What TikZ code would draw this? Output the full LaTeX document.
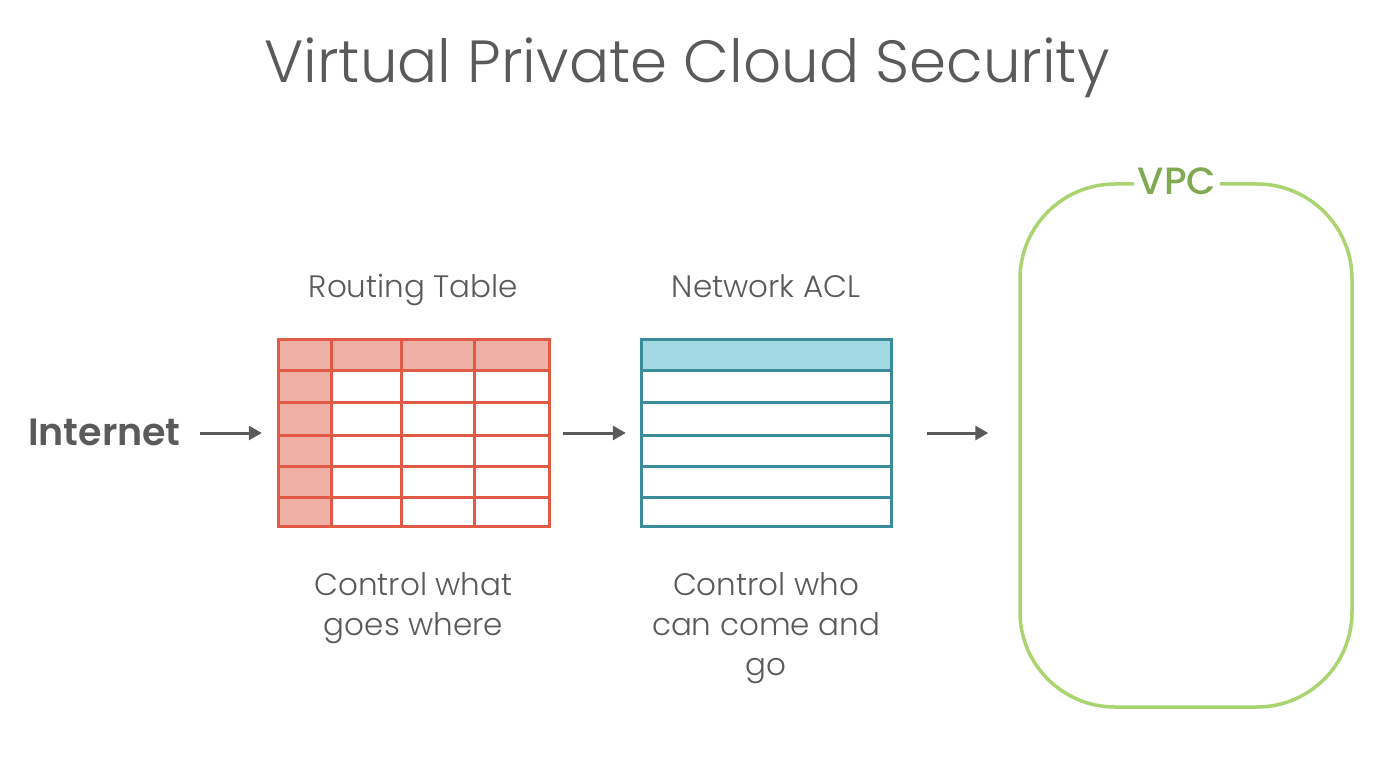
\documentclass[tikz,border=0pt]{standalone}
\usepackage{fontspec}
\setmainfont{Poppins}[UprightFont=* Light, BoldFont=* Medium]
\newfontfamily\semib{Poppins SemiBold}
\usetikzlibrary{arrows.meta}
\definecolor{txt}{HTML}{5A5A5A}
\definecolor{rtline}{HTML}{E05A45}
\definecolor{rtfill}{HTML}{EFB0A6}
\definecolor{acline}{HTML}{3A8C9A}
\definecolor{acfill}{HTML}{A2D9E3}
\definecolor{vpcline}{HTML}{A9D46F}
\definecolor{vpctxt}{HTML}{7FAA52}
\tikzset{
  lbl/.style={text=txt, font=\fontsize{31}{40}\selectfont, align=center, anchor=base, inner sep=0pt},
  flow/.style={draw=txt, line width=3pt, -{Triangle[length=13pt,width=14pt]}},
  tbl/.style={minimum width=#1, minimum height=186pt, inner sep=0pt},
}
\begin{document}
\begin{tikzpicture}[x=1pt,y=-1pt]
\useasboundingbox (0,0) rectangle (1376,775);
\fill[white] (0,0) rectangle (1376,775);

\node[text=txt, font=\fontsize{59.5}{62}\selectfont, anchor=base, inner sep=0pt] (title) at (687,83) {Virtual Private Cloud Security};

\node[text=txt, font=\semib\fontsize{38}{40}\selectfont, anchor=base west, inner sep=0pt] (inet) at (28,445) {Internet};

% Routing table
\node[tbl=271pt] (rt) at (413.5,433) {};
\fill[rtfill] (278,340) rectangle (549,371);
\fill[rtfill] (278,340) rectangle (331,526);
\draw[rtline, line width=3pt]
  (278,340) rectangle (549,526)
  (331,340) -- (331,526) (401,340) -- (401,526) (474,340) -- (474,526)
  (278,371) -- (549,371) (278,403) -- (549,403) (278,435) -- (549,435)
  (278,466) -- (549,466) (278,497) -- (549,497);
\node[lbl] (rtt) at (413.5,298) {Routing Table};
\node[lbl] (rtd) at (413.5,635) {Control what\\goes where};

% Network ACL
\node[tbl=250pt] (acl) at (766,433) {};
\fill[acfill] (641,340) rectangle (891,371);
\draw[acline, line width=3pt]
  (641,340) rectangle (891,526)
  (641,371) -- (891,371) (641,403) -- (891,403) (641,435) -- (891,435)
  (641,466) -- (891,466) (641,497) -- (891,497);
\node[lbl] (aclt) at (766,298) {Network ACL};
\node[lbl] (acld) at (766,675) {Control who\\can come and\\go};

% VPC
\node[draw=vpcline, line width=3.5pt, rounded corners=95pt, minimum width=332pt, minimum height=523pt, inner sep=0pt] (vpc) at (1186,445.5) {};
\node[fill=white, text=vpctxt, font=\bfseries\fontsize{38}{42}\selectfont, inner xsep=4pt, inner ysep=2pt, anchor=base] (vpcl) at (1177,195) {VPC};
\coordinate (vpcin) at (vpc.west |- acl.east);

% arrows
\draw[flow, shorten <=19pt, shorten >=16pt] (inet.east |- rt.west) -- (rt.west);
\draw[flow, shorten <=14pt, shorten >=15pt] (rt.east) -- (acl.west);
\draw[flow, shorten <=36pt, shorten >=30pt] (acl.east) -- (vpcin);
\end{tikzpicture}
\end{document}
